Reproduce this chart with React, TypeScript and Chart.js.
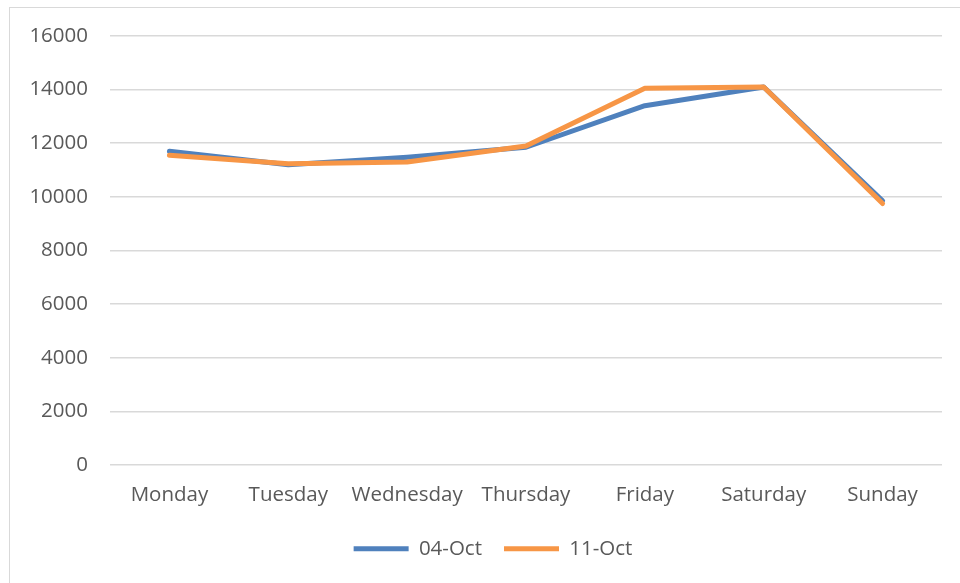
import React, { useEffect, useRef } from "react";
import { Chart, registerables } from "chart.js";

Chart.register(...registerables);

const categories = ["Monday", "Tuesday", "Wednesday", "Thursday", "Friday", "Saturday", "Sunday"];
const series1Label = "04-Oct";
const series1Values = [11700, 11200, 11480, 11850, 13400, 14100, 9850];
const series2Label = "11-Oct";
const series2Values = [11550, 11230, 11300, 11900, 14050, 14100, 9750];
const yTicks = { min: 0, max: 16000, step: 2000 };

const FONT = "'Open Sans', 'Noto Sans', sans-serif";
const FS = 20.5;

const shiftLegend = {
  id: "shiftLegend",
  afterLayout(chart: any) {
    if (chart.legend) chart.legend.left += 44;
  },
};

export default function App() {
  const ref = useRef<HTMLCanvasElement | null>(null);
  useEffect(() => {
    if (!ref.current) return;
    const chart = new Chart(ref.current, {
      type: "line",
      plugins: [shiftLegend],
      data: {
        labels: categories,
        datasets: [
          {
            label: series1Label,
            data: series1Values,
            borderColor: "#4F81BD",
            backgroundColor: "#4F81BD",
            borderWidth: 5,
            pointRadius: 0,
            borderCapStyle: "round",
            borderJoinStyle: "round",
            tension: 0,
            order: 2,
          },
          {
            label: series2Label,
            data: series2Values,
            borderColor: "#F79646",
            backgroundColor: "#F79646",
            borderWidth: 5,
            pointRadius: 0,
            borderCapStyle: "round",
            borderJoinStyle: "round",
            tension: 0,
            order: 1,
          },
        ],
      },
      options: {
        animation: false,
        responsive: false,
        maintainAspectRatio: false,
        layout: { padding: { top: 36, right: 18, left: 0, bottom: 14 } },
        plugins: {
          tooltip: { enabled: false },
          legend: {
            position: "bottom",
            labels: {
              usePointStyle: true,
              pointStyle: "line",
              pointStyleWidth: 55,
              boxHeight: 5,
              color: "#595959",
              font: { family: FONT, size: FS },
              padding: 22,
              sort: (a: any, b: any) => a.datasetIndex - b.datasetIndex,
            },
          },
        },
        scales: {
          x: {
            offset: true,
            grid: { display: false, drawTicks: false },
            border: { display: false },
            ticks: { color: "#595959", font: { family: FONT, size: FS }, padding: 18, maxRotation: 0 },
            afterFit: (s: any) => { s.height = s.height - 9; },
          },
          y: {
            min: yTicks.min,
            max: yTicks.max,
            grid: { color: "#d9d9d9", lineWidth: 1.5, drawTicks: false },
            border: { display: false },
            ticks: {
              stepSize: yTicks.step,
              color: "#595959",
              font: { family: FONT, size: FS },
              padding: 22,
              callback: (v: any) => String(v),
            },
            afterFit: (s: any) => { s.width = 110; },
          },
        },
      },
    });
    return () => chart.destroy();
  }, []);
  return (
    <div style={{ position: "absolute", left: 0, top: 0, width: 960, height: 583, overflow: "hidden", background: "#fff" }}>
      <div style={{ position: "absolute", left: 9, top: 7, width: 1000, height: 700, border: "1px solid #d9d9d9" }} />
      <canvas ref={ref} width={960} height={583} style={{ position: "absolute", left: 0, top: 0 }} />
    </div>
  );
}
